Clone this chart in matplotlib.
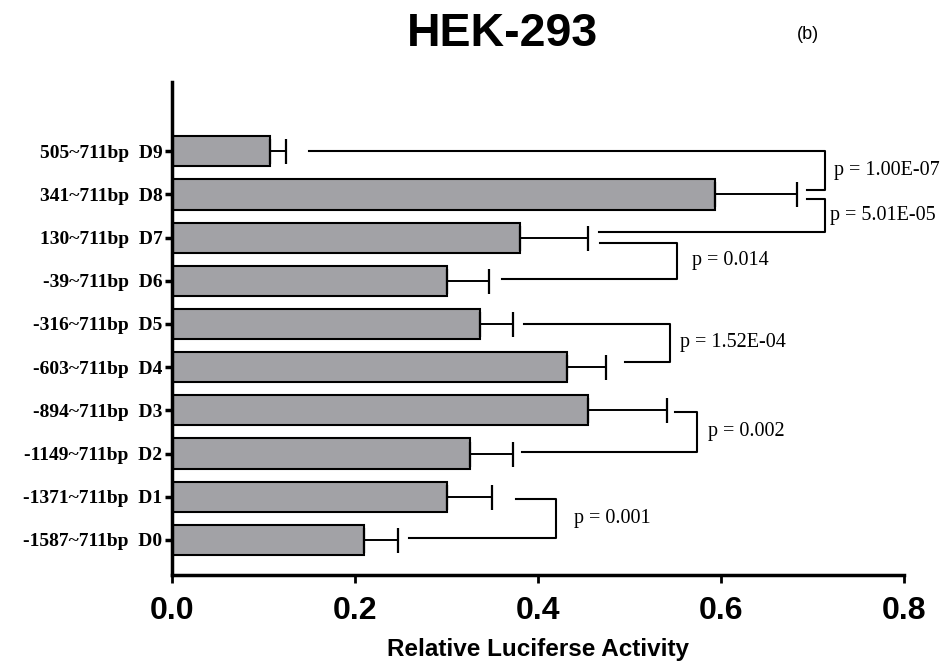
import numpy as np
import matplotlib.pyplot as plt

labels = ['-1587~711bp  D0', '-1371~711bp  D1', '-1149~711bp  D2', '-894~711bp  D3',
          '-603~711bp  D4', '-316~711bp  D5', '-39~711bp  D6', '130~711bp  D7',
          '341~711bp  D8', '505~711bp  D9']
means = [0.210, 0.300, 0.325, 0.455, 0.431, 0.336, 0.300, 0.380, 0.593, 0.107]
errs = [0.037, 0.050, 0.048, 0.086, 0.043, 0.037, 0.046, 0.075, 0.090, 0.018]

# brackets: (y top arm, y bottom arm, x start top arm, x start bottom arm, x vertical, text)
brackets = [
    (9.00, 8.10, 0.150, 0.694, 0.713, 'p = 1.00E-07'),
    (7.89, 7.13, 0.694, 0.467, 0.713, 'p = 5.01E-05'),
    (6.88, 6.04, 0.468, 0.360, 0.552, 'p = 0.014'),
    (5.00, 4.12, 0.385, 0.495, 0.544, 'p = 1.52E-04'),
    (2.96, 2.04, 0.550, 0.382, 0.574, 'p = 0.002'),
    (0.95, 0.05, 0.376, 0.259, 0.420, 'p = 0.001'),
]
text_x = [0.723, 0.719, 0.568, 0.555, 0.586, 0.439]

fig = plt.figure(figsize=(9.4, 6.63), dpi=100)
ax = fig.add_axes([0.183, 0.133, 0.779, 0.743])

y = np.arange(len(labels))
ax.barh(y, means, height=0.7, color='#a2a2a6', edgecolor='black', linewidth=1.5)
ax.errorbar(means, y, xerr=[np.zeros(len(errs)), errs], fmt='none', ecolor='black',
            elinewidth=1.4, capsize=9, capthick=1.6)

for (yt, yb, xt, xb, xv, txt), tx in zip(brackets, text_x):
    ax.plot([xt, xv, xv, xb], [yt, yt, yb, yb], color='black', lw=1.5, clip_on=False)
    ax.text(tx, (yt + yb) / 2, txt, ha='left', va='center', fontsize=14.5,
            family='Liberation Serif', clip_on=False)

ax.set_xlim(0, 0.8)
ax.set_ylim(-0.81, 10.6)
ax.set_yticks(y)
ax.set_yticklabels(labels, family='Liberation Serif', fontweight='bold', fontsize=14)
ax.set_xticks([0.0, 0.2, 0.4, 0.6, 0.8])
ax.set_xticklabels(['0.0', '0.2', '0.4', '0.6', '0.8'], family='Liberation Sans',
                   fontweight='bold', fontsize=23)
ax.tick_params(axis='y', length=5, width=2.5, pad=2)
ax.tick_params(axis='x', length=6, width=2, pad=9)
ax.spines['right'].set_visible(False)
ax.spines['top'].set_visible(False)
ax.spines['left'].set_linewidth(2.5)
ax.spines['bottom'].set_linewidth(2.5)
ax.set_xlabel('Relative Luciferse Activity', family='Liberation Sans', fontweight='bold',
              fontsize=17.5, labelpad=9)

fig.text(0.535, 0.949, 'HEK-293', ha='center', va='center', family='Liberation Sans',
         fontweight='bold', fontsize=33.5)
fig.text(0.859, 0.948, '(b)', ha='center', va='center', family='Liberation Sans', fontsize=13)

plt.savefig('out.png', dpi=100)
